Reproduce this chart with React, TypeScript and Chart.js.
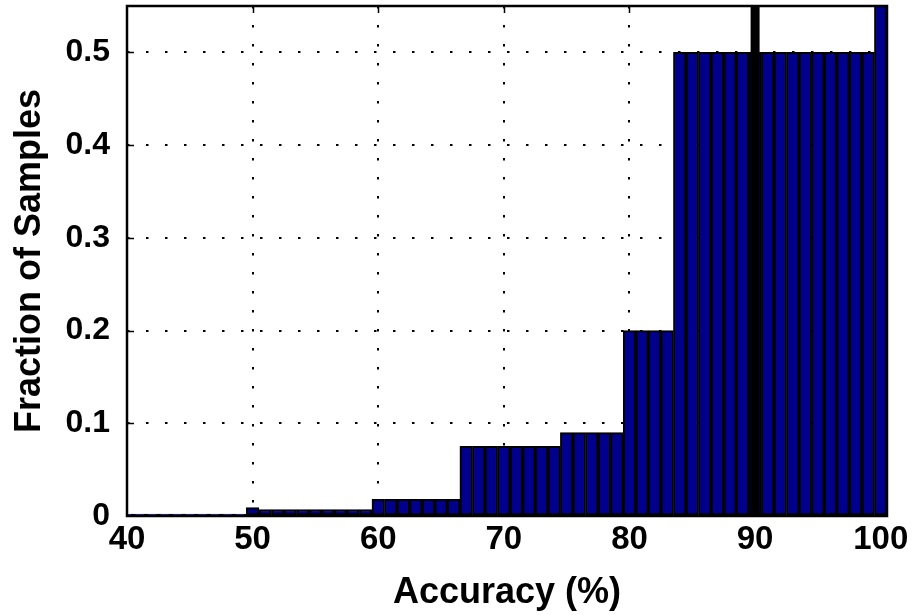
import { useEffect, useRef } from 'react';
import { Chart, registerables } from 'chart.js';

Chart.register(...registerables);

// ---- data ----
const accuracy = [
  40, 41, 42, 43, 44, 45, 46, 47, 48, 49,
  50, 51, 52, 53, 54, 55, 56, 57, 58, 59,
  60, 61, 62, 63, 64, 65, 66, 67, 68, 69,
  70, 71, 72, 73, 74, 75, 76, 77, 78, 79,
  80, 81, 82, 83, 84, 85, 86, 87, 88, 89,
  90, 91, 92, 93, 94, 95, 96, 97, 98, 99,
  100,
];
const fraction = [
  0.002, 0.002, 0.002, 0.002, 0.002, 0.002, 0.002, 0.002, 0.002, 0.002,
  0.009, 0.007, 0.007, 0.007, 0.007, 0.007, 0.007, 0.007, 0.007, 0.007,
  0.018, 0.018, 0.018, 0.018, 0.018, 0.018, 0.018, 0.075, 0.075, 0.075,
  0.075, 0.075, 0.075, 0.075, 0.075, 0.09, 0.09, 0.09, 0.09, 0.09,
  0.2, 0.2, 0.2, 0.2, 0.5, 0.5, 0.5, 0.5, 0.5, 0.5,
  0.5, 0.5, 0.5, 0.5, 0.5, 0.5, 0.5, 0.5, 0.5, 0.5,
  0.6,
];
const markerAccuracy = [90, 90];
const markerFraction = [0, 0.6];
const xTicks = [40, 50, 60, 70, 80, 90, 100];
const xTickLabels = ['40', '50', '60', '70', '80', '90', '100'];
const yTicks = [0, 0.1, 0.2, 0.3, 0.4, 0.5];
const yTickLabels = ['0', '0.1', '0.2', '0.3', '0.4', '0.5'];
const xRange = [40, 100.5];
const yRange = [0, 0.55];

const FONT = "'Liberation Sans', Arial, Helvetica, sans-serif";

const boxPlugin = {
  id: 'boxAndTicks',
  beforeDatasetsDraw(chart: any) {
    const { ctx, chartArea: a, scales } = chart;
    ctx.save();
    ctx.strokeStyle = '#000';
    ctx.lineWidth = 1.5;
    ctx.beginPath();
    xTicks.slice(1, -1).forEach((v) => {
      const px = Math.round(scales.x.getPixelForValue(v)) + 0.5;
      ctx.moveTo(px, a.bottom);
      ctx.lineTo(px, a.bottom - 7);
      ctx.moveTo(px, a.top);
      ctx.lineTo(px, a.top + 7);
    });
    yTicks.slice(1).forEach((v) => {
      const py = Math.round(scales.y.getPixelForValue(v)) + 0.5;
      ctx.moveTo(a.left, py);
      ctx.lineTo(a.left + 7, py);
      ctx.moveTo(a.right, py);
      ctx.lineTo(a.right - 7, py);
    });
    ctx.stroke();
    ctx.restore();
  },
  afterDatasetsDraw(chart: any) {
    const { ctx, chartArea: a } = chart;
    ctx.save();
    ctx.strokeStyle = '#000';
    ctx.lineWidth = 2.5;
    ctx.strokeRect(a.left, a.top, a.right - a.left, a.bottom - a.top);
    ctx.restore();
  },
};

export default function App() {
  const ref = useRef<HTMLCanvasElement | null>(null);

  useEffect(() => {
    if (!ref.current) return;
    const chart = new Chart(ref.current, {
      type: 'bar',
      data: {
        datasets: [
          {
            type: 'line',
            data: markerAccuracy.map((x, i) => ({ x, y: markerFraction[i] })),
            borderColor: '#000',
            borderWidth: 9,
            borderCapStyle: 'butt',
            pointRadius: 0,
            clip: 0,
            order: 0,
          } as any,
          {
            type: 'bar',
            data: accuracy.map((x, i) => ({ x, y: fraction[i] })),
            backgroundColor: '#00008c',
            borderColor: '#000',
            borderWidth: 2,
            borderSkipped: false,
            barPercentage: 1,
            categoryPercentage: 1,
            grouped: false,
            clip: 0,
            order: 1,
          } as any,
        ],
      },
      options: {
        animation: false,
        responsive: false,
        maintainAspectRatio: false,
        layout: { padding: { top: 6, right: 29, left: 0, bottom: 0 } },
        plugins: {
          legend: { display: false },
          tooltip: { enabled: false },
        },
        scales: {
          x: {
            type: 'linear',
            min: xRange[0],
            max: xRange[1],
            offset: false,
            afterBuildTicks: (s: any) => {
              s.ticks = xTicks.map((v) => ({ value: v }));
            },
            afterFit: (s: any) => {
              s.height = 99;
              s.paddingLeft = 0;
              s.paddingRight = 0;
            },
            grid: {
              offset: false,
              drawTicks: false,
              lineWidth: 2,
              color: (c: any) =>
                c.tick && c.tick.value > xRange[0] && c.tick.value < 100 ? '#000' : 'rgba(0,0,0,0)',
            },
            border: { display: false, dash: [2.5, 16.5] },
            ticks: {
              padding: 4,
              color: '#000',
              font: { family: FONT, size: 33, weight: 'bold' },
              callback: (v: any) => {
                const i = xTicks.indexOf(Number(v));
                return i >= 0 ? xTickLabels[i] : '';
              },
            },
            title: {
              display: true,
              text: 'Accuracy (%)',
              color: '#000',
              font: { family: FONT, size: 36, weight: 'bold' },
              padding: { top: 0, bottom: 0 },
            },
          },
          y: {
            type: 'linear',
            min: yRange[0],
            max: yRange[1],
            afterBuildTicks: (s: any) => {
              s.ticks = yTicks.map((v) => ({ value: v }));
            },
            afterFit: (s: any) => {
              s.width = 127;
              s.paddingTop = 0;
              s.paddingBottom = 0;
            },
            grid: {
              drawTicks: false,
              lineWidth: 2,
              color: (c: any) =>
                c.tick && c.tick.value > 0 ? '#000' : 'rgba(0,0,0,0)',
            },
            border: { display: false, dash: [2.5, 16.5] },
            ticks: {
              padding: 17,
              color: '#000',
              font: { family: FONT, size: 32, weight: 'bold' },
              callback: (v: any) => {
                const i = yTicks.findIndex((t) => Math.abs(t - Number(v)) < 1e-9);
                return i >= 0 ? yTickLabels[i] : '';
              },
            },
            title: {
              display: true,
              text: 'Fraction of Samples',
              color: '#000',
              font: { family: FONT, size: 36, weight: 'bold' },
              padding: { top: 8, bottom: 0 },
            },
          },
        },
      },
      plugins: [boxPlugin],
    } as any);
    return () => chart.destroy();
  }, []);

  return (
    <div style={{ position: 'fixed', left: 0, top: 0, width: 916, height: 615, background: '#fff' }}>
      <canvas ref={ref} width={916} height={615} style={{ width: 916, height: 615 }} />
    </div>
  );
}
